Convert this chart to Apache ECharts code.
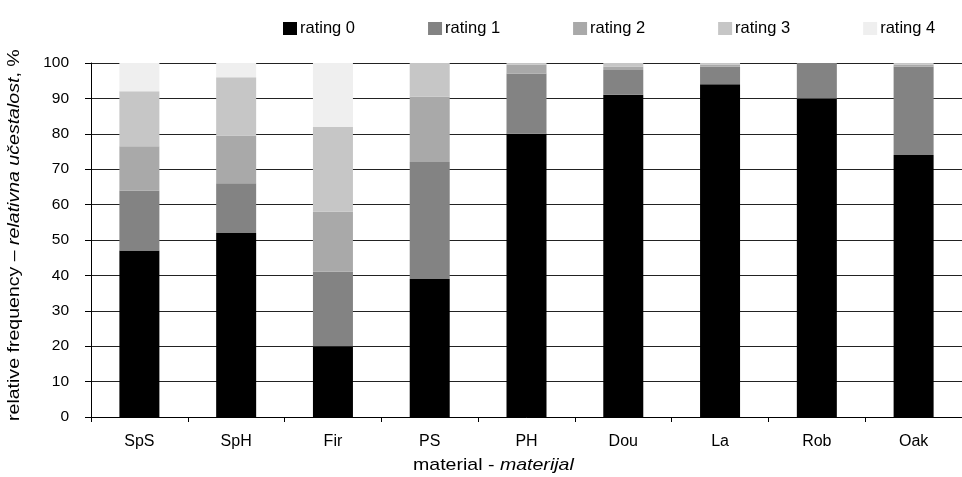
<!DOCTYPE html>
<html><head><meta charset="utf-8">
<script src="https://cdn.jsdelivr.net/npm/echarts@6/dist/echarts.min.js"></script>
<style>html,body{margin:0;padding:0;background:#fff}#c{width:962px;height:477px}</style>
</head><body><div id="c"></div>
<script>
const categories = ['SpS','SpH','Fir','PS','PH','Dou','La','Rob','Oak'];
const seriesNames = ['rating 0','rating 1','rating 2','rating 3','rating 4'];
const rating0 = [47, 52, 20, 39, 80, 91, 94, 90, 74];
const rating1 = [17, 14, 21, 33, 17, 7, 5, 10, 25];
const rating2 = [12.5, 13.5, 17, 18.5, 2.5, 1, 0.5, 0, 0.5];
const rating3 = [15.5, 16.5, 24, 9.5, 0.5, 1, 0.5, 0, 0.5];
const rating4 = [8, 4, 18, 0, 0, 0, 0, 0, 0];
const yTicks = [0,10,20,30,40,50,60,70,80,90,100];

const colors = ['#000000','#838383','#a9a9a9','#c6c6c6','#efefef'];
const allData = [rating0, rating1, rating2, rating3, rating4];
const font = 'Liberation Sans, Arial, sans-serif';

const chart = echarts.init(document.getElementById('c'));
const rich = {
  n: {fontSize: 17, fontFamily: font, fill: '#000'},
  i: {fontSize: 17, fontFamily: font, fontStyle: 'italic', fill: '#000'}
};
chart.setOption({
  animation: false,
  textStyle: {fontFamily: font},
  legend: {
    top: 15, left: 278, itemWidth: 14, itemHeight: 13, itemGap: 73,
    textStyle: {fontSize: 16.5, color: '#000', fontFamily: font, padding: [0,0,0,-2]},
    data: seriesNames.map(n => ({name: n, icon: 'rect'}))
  },
  grid: {left: 91, width: 877, top: 63, bottom: 60},
  xAxis: {
    type: 'category', data: categories,
    axisLine: {lineStyle: {color: '#000', width: 1}},
    axisTick: {show: true, alignWithLabel: false, length: 5, lineStyle: {color: '#000'}},
    axisLabel: {fontSize: 16, color: '#000', margin: 17, fontFamily: font}
  },
  yAxis: {
    type: 'value', min: 0, max: 100, interval: 10,
    axisLine: {show: true, lineStyle: {color: '#000'}},
    axisTick: {show: true, inside: false, length: 6, lineStyle: {color: '#000'}},
    axisLabel: {fontSize: 15.5, color: '#000', margin: 22, fontFamily: font,
      formatter: v => yTicks.includes(v) ? String(v) : ''},
    splitLine: {show: true, lineStyle: {color: '#222', width: 1}}
  },
  series: seriesNames.map((n, i) => ({
    name: n, type: 'bar', stack: 'all', barWidth: 40,
    data: allData[i],
    itemStyle: {color: colors[i]}
  })),
  graphic: [
    {type: 'text', x: 413, y: 465, scaleX: 1.15, style: {
      rich: rich, textVerticalAlign: 'middle',
      text: '{n|material - }{i|materijal}'}},
    {type: 'text', rotation: Math.PI/2, x: 14, y: 421, scaleX: 1.15, style: {
      rich: rich, textVerticalAlign: 'middle',
      text: '{n|relative frequency – }{i|relativna učestalost}{n|, %}'}}
  ]
});
</script></body></html>
